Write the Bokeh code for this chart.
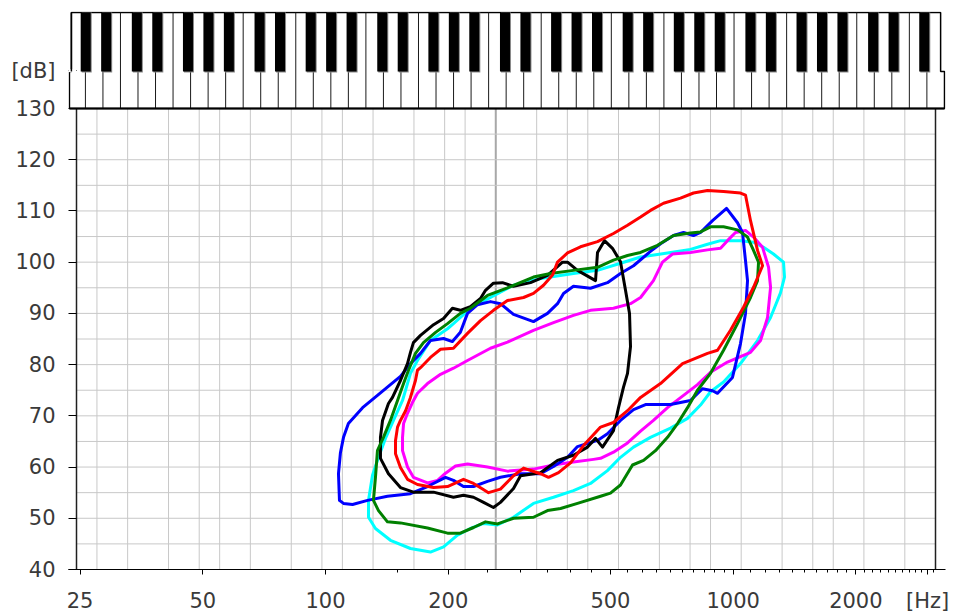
import numpy as np
from bokeh.plotting import figure
from bokeh.models import Range1d, FixedTicker, NumeralTickFormatter
from bokeh.embed import file_html
from bokeh.resources import INLINE

# ---------------- data ----------------
blue_hz = [108.2, 107.6, 108.8, 110.7, 113.8, 123.3, 134.1, 144.3, 152.7, 161.6, 171.0, 180.9, 194.8, 204.8,
           214.2, 223.0, 236.0, 253.9, 268.6, 289.2, 323.7, 350.4, 370.8, 383.6, 405.7, 446.7, 491.6, 529.2,
           569.6, 626.8, 663.4, 714.0, 755.6, 799.2, 831.6, 890.0, 963.4, 1024.8, 1054.2, 1072.2, 1084.5,
           1072.2, 1042.4, 996.2, 915.5, 890.0, 841.0, 785.8, 702.0, 609.6, 569.6, 529.2, 491.6, 464.8,
           446.7, 415.1, 392.4, 362.5, 336.8, 300.9, 268.6, 249.7, 230.7, 218.0, 206.0, 197.0, 177.9,
           161.6, 141.9, 126.8, 116.5, 110.7]
blue_db = [53.5, 58.7, 62.8, 65.8, 68.5, 71.6, 74.0, 76.1, 77.7, 80.2, 82.2, 84.7, 85.1, 84.5,
           86.3, 90.0, 91.7, 92.3, 91.9, 89.8, 88.4, 90.0, 91.9, 93.9, 95.3, 94.9, 96.0, 97.8,
           99.3, 102.1, 103.6, 105.2, 105.8, 105.2, 105.8, 108.1, 110.5, 107.7, 105.8, 100.3, 96.4,
           90.0, 84.1, 77.5, 74.4, 74.9, 75.3, 73.0, 72.2, 72.2, 71.2, 69.1, 66.5, 65.2,
           64.8, 64.0, 61.9, 60.1, 58.7, 58.7, 58.0, 57.2, 56.2, 56.2, 57.4, 58.0, 56.2,
           54.8, 54.3, 53.5, 52.7, 52.9]

black_hz = [136.4, 136.4, 138.0, 142.7, 146.0, 152.7, 158.9, 161.6, 164.3, 171.0, 184.1, 194.8, 204.8,
            214.2, 226.7, 240.0, 246.9, 258.2, 271.7, 289.2, 318.4, 350.4, 381.5, 392.4, 415.1, 459.6,
            464.8, 483.4, 505.7, 529.2, 544.4, 556.9, 560.0, 550.6, 538.3, 523.3, 508.6, 478.1, 459.6,
            439.3, 405.7, 370.8, 336.8, 300.9, 289.2, 268.6, 258.2, 244.2, 230.7, 218.0, 206.0, 184.1,
            164.3, 152.7, 142.7, 136.4]
black_db = [63.2, 65.8, 69.1, 72.4, 73.6, 76.9, 80.2, 82.4, 84.3, 85.7, 87.8, 89.0, 91.0,
            90.6, 91.3, 92.9, 94.5, 95.9, 96.0, 95.3, 96.0, 97.4, 100.0, 100.0, 98.4, 96.4,
            101.9, 104.2, 102.7, 100.1, 94.5, 90.0, 83.5, 78.3, 75.6, 71.6, 67.1, 63.9, 65.6,
            63.9, 62.3, 61.3, 58.9, 58.3, 55.8, 53.1, 52.1, 53.1, 54.1, 54.5, 54.1, 55.1,
            55.1, 56.0, 58.7, 61.7]

red_hz = [148.5, 148.5, 150.2, 152.7, 157.2, 161.6, 166.2, 168.1, 171.0, 180.9, 191.5, 206.0, 223.0,
          240.0, 258.2, 279.5, 306.1, 323.7, 342.6, 360.5, 370.8, 392.4, 422.2, 464.8, 508.6, 550.6,
          592.7, 626.8, 674.8, 742.9, 799.2, 865.2, 947.2, 1042.4, 1072.2, 1103.1, 1147.6, 1180.6,
          1121.9, 1060.2, 985.0, 915.5, 865.1, 751.4, 663.4, 592.7, 550.6, 508.6, 472.8, 429.4, 399.1,
          372.9, 352.4, 336.8, 306.1, 289.2, 268.6, 251.1, 242.8, 230.7, 218.0, 199.2, 184.1, 168.1,
          158.9, 152.7]
red_db = [62.6, 65.2, 67.8, 69.1, 71.0, 73.6, 76.9, 78.9, 79.4, 81.4, 83.0, 83.2, 86.1,
          88.6, 90.6, 92.5, 93.1, 93.9, 95.5, 97.5, 100.0, 101.8, 103.0, 104.0, 105.6, 107.2,
          108.8, 110.1, 111.5, 112.5, 113.5, 114.0, 113.8, 113.5, 113.1, 108.1, 102.3, 99.3,
          95.1, 91.2, 86.7, 82.8, 82.2, 80.2, 76.3, 73.6, 71.0, 68.7, 67.8, 64.2, 60.8,
          58.9, 58.0, 58.7, 59.8, 58.3, 55.7, 55.0, 55.7, 56.8, 57.6, 56.2, 56.0, 56.6,
          57.6, 59.9]

magenta_hz = [154.5, 154.5, 155.4, 158.9, 163.4, 168.1, 177.9, 191.5, 206.0, 223.0, 253.9, 279.5, 323.7,
              362.5, 405.7, 446.7, 508.6, 560.0, 592.7, 637.4, 670.9, 710.0, 785.8, 865.2, 931.3, 968.4,
              1013.2, 1072.2, 1121.9, 1180.6, 1221.4, 1235.3, 1214.5, 1167.3, 1103.1, 968.4, 880.0, 817.5,
              755.6, 690.2, 637.4, 592.7, 550.6, 508.6, 472.8, 454.4, 405.7, 362.5, 323.7, 279.5, 249.7,
              223.0, 208.4, 197.0, 188.3, 177.9, 164.3, 158.9]
magenta_db = [63.2, 65.8, 68.5, 70.5, 72.6, 74.4, 76.3, 78.1, 79.3, 80.8, 83.2, 84.4, 86.7,
              88.2, 89.6, 90.6, 91.0, 91.9, 93.1, 96.4, 100.0, 101.6, 101.9, 102.4, 102.7, 104.2,
              105.8, 106.2, 104.9, 102.9, 99.0, 95.1, 89.2, 84.7, 82.4, 80.5, 78.5, 76.1,
              74.0, 71.6, 69.1, 67.0, 64.7, 62.9, 61.7, 61.5, 61.0, 60.4, 59.6, 59.2, 60.0,
              60.6, 60.2, 58.8, 57.4, 56.9, 58.0, 60.0]

green_hz = [131.1, 132.6, 134.1, 138.7, 144.3, 150.2, 155.4, 159.8, 166.2, 173.9, 186.2, 199.2, 214.2,
            226.7, 249.7, 279.5, 323.7, 356.4, 405.7, 464.8, 508.6, 550.6, 592.7, 652.2, 714.0, 785.8,
            831.6, 880.0, 947.2, 1024.8, 1084.5, 1121.9, 1154.2, 1147.6, 1103.1, 1024.8, 947.2, 880.0,
            817.5, 772.9, 730.4, 690.2, 644.8, 602.8, 566.4, 529.2, 500.0, 472.8, 415.1, 377.2, 350.4,
            323.7, 289.2, 264.2, 246.9, 230.7, 214.2, 199.2, 177.9, 152.7, 141.9, 134.9]
green_db = [53.5, 58.0, 63.2, 65.8, 69.1, 73.0, 76.3, 78.9, 82.2, 84.3, 86.3, 88.0, 90.0,
            91.0, 93.5, 95.0, 97.1, 97.8, 98.4, 99.0, 100.4, 101.3, 101.9, 103.3, 105.2, 105.7,
            105.9, 106.9, 106.9, 106.3, 104.9, 102.3, 100.0, 96.4, 93.1, 88.0, 82.8, 78.3,
            75.0, 71.6, 68.5, 65.8, 63.2, 61.3, 60.4, 56.5, 54.9, 54.3, 52.9, 51.9, 51.5,
            50.2, 50.0, 48.9, 49.3, 48.2, 47.1, 47.1, 48.1, 49.1, 49.3, 51.5]

cyan_hz = [127.5, 127.5, 132.6, 144.3, 161.6, 180.9, 194.8, 210.7, 226.7, 244.2, 264.2, 289.2, 323.7,
           362.5, 405.7, 446.7, 491.6, 529.2, 569.6, 626.8, 702.0, 772.9, 831.6, 880.0, 947.2, 1042.4,
           1147.6, 1235.3, 1306.5, 1336.4, 1329.0, 1255.8, 1187.3, 1121.9, 1042.4, 931.3, 865.2, 785.8,
           690.2, 592.7, 529.2, 464.8, 405.7, 336.8, 289.2, 253.9, 226.7, 206.0, 199.2, 180.9, 168.1,
           161.6, 154.5, 146.8, 140.3, 134.9, 130.4]
cyan_db = [53.5, 50.2, 48.0, 45.7, 44.1, 43.4, 44.4, 46.7, 48.0, 49.0, 48.7, 50.2, 52.9,
           54.1, 55.4, 56.8, 59.3, 61.9, 63.9, 65.8, 67.6, 69.5, 72.1, 74.7, 76.6, 80.2,
           84.7, 89.2, 94.0, 97.1, 100.0, 101.6, 102.9, 103.9, 104.2, 104.2, 103.5, 102.5,
           101.8, 101.0, 99.8, 98.4, 97.8, 96.8, 95.5, 93.1, 91.0, 88.0, 87.0, 84.7, 80.8,
           78.3, 73.0, 69.1, 65.6, 61.9, 58.4]

x_tick_labels = [25, 50, 100, 200, 500, 1000, 2000]
x_minor_ticks = [150, 250, 300, 350, 400, 450, 550, 600, 650, 700, 750, 800, 850, 900, 950,
                 1100, 1200, 1300, 1400, 1500, 1600, 1700, 1800, 1900,
                 2100, 2200, 2300, 2400, 2500, 2600, 2700, 2800, 2900, 3100]
x_unit_tick = 3000          # position of the "[Hz]" unit text
y_tick_labels = [40, 50, 60, 70, 80, 90, 100, 110, 120, 130]
y_unit_tick = 137.4         # position of the "[dB]" unit text

# ---------------- scale geometry ----------------
G0 = 24.4997          # lowest note shown (G0), left border
N_SEMI = 84           # G0 .. G7
PX_OCT = 859 / 7      # pixels per octave
FRAME_W = 877
FRAME_H = 558
DB_PX = 90 / 461      # dB per pixel
LEFT_PAD = 8          # px between frame left and G0 border


def hz(s):
    return G0 * 2 ** (np.asarray(s, dtype=float) / 12.0)


x_start = G0 * 2 ** (-LEFT_PAD / PX_OCT)
x_end = G0 * 2 ** ((FRAME_W - LEFT_PAD) / PX_OCT)
y_end = 40 + FRAME_H * DB_PX

p = figure(frame_width=FRAME_W, frame_height=FRAME_H, x_axis_type="log",
           x_range=Range1d(x_start, x_end), y_range=Range1d(40, y_end),
           output_backend="svg", toolbar_location=None,
           min_border_left=68, min_border_right=6, min_border_top=11, min_border_bottom=40)
p.xgrid.visible = False
p.ygrid.visible = False
p.outline_line_color = None
p.background_fill_color = "white"
p.border_fill_color = "white"

# ---------------- grid ----------------
semis = np.arange(1, N_SEMI)
grid_s = [s for s in semis if s % 12 in (0, 2, 5, 9)]
light = [s for s in grid_s if s != 41]
p.segment(x0=hz(light), y0=40, x1=hz(light), y1=130, line_color="#c8c8c8", line_width=1)
p.segment(x0=hz([41]), y0=40, x1=hz([41]), y1=130, line_color="#a8a8a8", line_width=2)
hdb = np.arange(45, 130, 5)
p.segment(x0=hz(0), y0=hdb, x1=hz(N_SEMI), y1=hdb, line_color="#c8c8c8", line_width=1)
# plot borders
p.segment(x0=hz([0, N_SEMI]), y0=40, x1=hz([0, N_SEMI]), y1=130, line_color="#202020", line_width=1.5)

# ---------------- keyboard ----------------
KB_TOP = 130 + 96 * DB_PX
BK_BOT = 130 + 37 * DB_PX
BK_SH = 130 + 36 * DB_PX
kb_s_lo, kb_s_hi = -0.5, N_SEMI + 0.5
fl_lo, fl_hi = -0.69, N_SEMI + 0.88
outline_x = hz([kb_s_lo, kb_s_hi, kb_s_hi, fl_hi, fl_hi, fl_lo, fl_lo, kb_s_lo])
outline_y = [KB_TOP, KB_TOP, BK_BOT, BK_BOT, 130, 130, BK_BOT, BK_BOT]
p.patch(outline_x, outline_y, fill_color="white", line_color="black", line_width=1.5)
wb = 0.871 + (12 / 7) * np.arange(0, 49)
p.segment(x0=hz(wb), y0=130, x1=hz(wb), y1=KB_TOP, line_color="#1a1a1a", line_width=1)
blk = np.array([s for s in range(0, N_SEMI) if s % 12 in (1, 3, 6, 8, 11)], dtype=float)
p.quad(left=hz(blk - 0.49), right=hz(blk + 0.49), bottom=BK_SH, top=KB_TOP,
       fill_color="#8a8a8a", line_color=None)
p.quad(left=hz(blk - 0.59), right=hz(blk + 0.39), bottom=BK_BOT, top=KB_TOP,
       fill_color="black", line_color=None)
p.segment(x0=hz(fl_lo), y0=130, x1=hz(fl_hi), y1=130, line_color="black", line_width=2)

# ---------------- voice range profiles ----------------
for xs, ys, col in [(cyan_hz, cyan_db, "#00ffff"), (magenta_hz, magenta_db, "#ff00ff"),
                    (blue_hz, blue_db, "#0000ff"), (black_hz, black_db, "#000000"),
                    (green_hz, green_db, "#008000"), (red_hz, red_db, "#ff0000")]:
    p.patch(xs, ys, fill_color=None, line_color=col, line_width=3, line_join="round")

# ---------------- axes ----------------
p.xaxis.ticker = FixedTicker(ticks=x_tick_labels + [x_unit_tick], minor_ticks=x_minor_ticks)
p.xaxis.formatter = NumeralTickFormatter(format="0")
p.xaxis.major_label_overrides = {x_unit_tick: "[Hz]"}
p.xaxis.axis_line_color = "black"
p.xaxis.major_tick_in = 0
p.xaxis.major_tick_out = 5
p.xaxis.minor_tick_in = 0
p.xaxis.minor_tick_out = 3
p.xaxis.major_tick_line_color = "black"
p.xaxis.minor_tick_line_color = "black"
p.xaxis.major_label_standoff = 14

p.yaxis.ticker = FixedTicker(ticks=y_tick_labels + [y_unit_tick], minor_ticks=[])
p.yaxis.major_label_overrides = {y_unit_tick: "[dB]"}
p.yaxis.axis_line_color = None
p.yaxis.major_tick_in = 8
p.yaxis.major_tick_out = 0
p.yaxis.minor_tick_line_color = None
p.yaxis.major_tick_line_color = "black"
p.yaxis.major_label_standoff = 13

for ax in (p.xaxis, p.yaxis):
    ax.major_label_text_font = "DejaVu Sans"
    ax.major_label_text_font_size = "21px"
    ax.major_label_text_color = "#3a3a3a"

# hide the tick mark that carries the "[dB]" unit text (drawn above the axis)
p.segment(x0=x_start, y0=y_unit_tick, x1=hz(-0.05), y1=y_unit_tick, line_color="white",
          line_width=3, level="overlay")
p.segment(x0=hz(-0.5), y0=BK_BOT, x1=hz(-0.5), y1=KB_TOP, line_color="black",
          line_width=1.5, level="overlay")

open("out.html", "w").write(file_html(p, INLINE))
